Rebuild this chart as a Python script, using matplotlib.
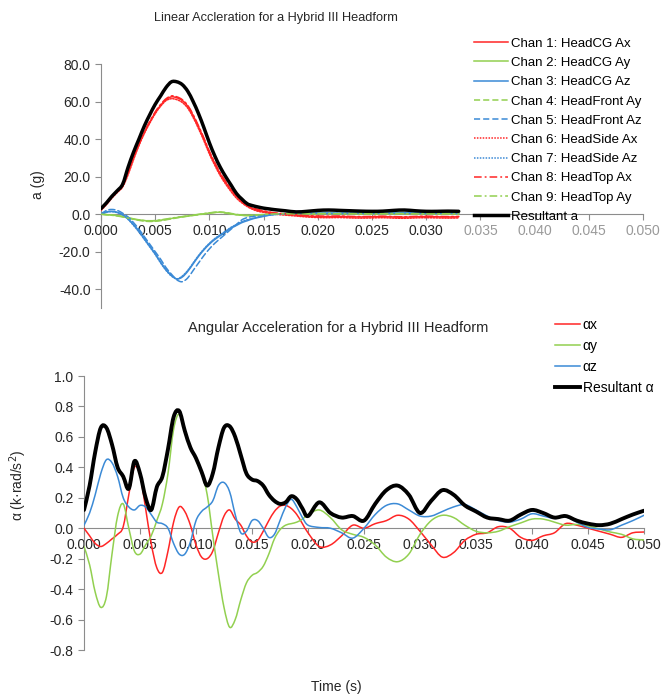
import numpy as np
import matplotlib
matplotlib.use("Agg")
import matplotlib.pyplot as plt
from matplotlib.lines import Line2D
from matplotlib.path import Path
from matplotlib.patches import PathPatch
from matplotlib.ticker import FuncFormatter

plt.rcParams['font.family'] = ['Liberation Sans', 'DejaVu Sans']

# ---- linear acceleration, Hybrid III headform (g) ----
t_lin = [0.0, 0.0005, 0.001, 0.0015, 0.002, 0.0025, 0.003, 0.0035, 0.004, 0.0045,
         0.005, 0.0055, 0.006, 0.0065, 0.007, 0.0075, 0.008, 0.0085, 0.009, 0.0095,
         0.010, 0.0105, 0.011, 0.0115, 0.012, 0.0125, 0.013, 0.0135, 0.014, 0.0145,
         0.015, 0.0155, 0.016, 0.017, 0.018, 0.019, 0.020, 0.021, 0.022, 0.023,
         0.024, 0.025, 0.026, 0.027, 0.028, 0.029, 0.030, 0.031, 0.032, 0.033]

chan1 = [2.5, 5.5, 9, 12, 15, 22, 30, 37, 43.5, 49, 54, 58, 61, 62.5, 62, 60.5, 57.5, 52.5, 46.5, 40,
         33, 27, 21.5, 17, 13, 9.5, 6.5, 4.5, 3, 2, 1.5, 1, 0.5, 0, -0.5, -1.0, -1.2, -1.3, -1.2, -1.4,
         -1.5, -1.4, -1.3, -1.5, -1.6, -1.4, -1.3, -1.4, -1.5, -1.4]
chan2 = [0, -0.3, -0.5, -0.8, -1.2, -1.8, -2.5, -3.0, -3.4, -3.6, -3.5, -3.2, -2.8, -2.3, -1.8, -1.4,
         -1.0, -0.6, -0.2, 0.2, 0.6, 0.9, 1.0, 0.7, 0.2, -0.3, -0.6, -0.7, -0.6, -0.4, -0.2, 0, 0.1,
         0.2, 0.3, 0.2, 0.3, 0.4, 0.3, 0.2, 0.3, 0.2, 0.2, 0.3, 0.4, 0.3, 0.2, 0.2, 0.3, 0.2]
chan3 = [0, 1.2, 1.5, 1.0, -0.3, -2.5, -5.5, -9, -13, -17, -21, -25.5, -29.5, -32.5, -34.5, -33.5,
         -30.5, -26.5, -22.5, -19, -16, -13.5, -11.5, -9.5, -7.5, -6, -4.5, -3.5, -2.5, -1.8, -1.2,
         -0.6, -0.2, 0.2, 0.4, 0.5, 0.6, 0.5, 0.4, 0.5, 0.6, 0.5, 0.5, 0.6, 0.7, 0.6, 0.5, 0.5, 0.6, 0.5]
chan4 = [0, -0.2, -0.4, -0.8, -1.3, -2.0, -2.7, -3.3, -3.7, -3.9, -3.8, -3.5, -3.0, -2.5, -2.0, -1.5,
         -1.1, -0.7, -0.3, 0.1, 0.5, 0.9, 1.1, 0.9, 0.4, -0.1, -0.5, -0.7, -0.7, -0.5, -0.3, -0.1, 0.1,
         0.3, 0.4, 0.3, 0.2, 0.3, 0.4, 0.3, 0.2, 0.3, 0.3, 0.2, 0.3, 0.4, 0.3, 0.2, 0.3, 0.3]
chan5 = [0, 2, 2.5, 2, 0.5, -1.5, -4.5, -8, -12, -16, -20, -24, -28.5, -32, -35, -36, -34, -30, -26,
         -22, -18.5, -15.5, -13, -10.5, -8, -5.5, -3, -1.8, -1.2, -0.8, -0.5, -0.3, 0, 0.3, 0.5, 0.6,
         0.5, 0.4, 0.5, 0.6, 0.5, 0.4, 0.5, 0.6, 0.6, 0.5, 0.4, 0.5, 0.5, 0.4]
chan6 = [2, 5, 8.5, 11.5, 14.5, 21, 29, 36.5, 43, 48.5, 53.5, 57.5, 60.5, 61.5, 61, 59.5, 56.5, 51.5,
         45.5, 39, 32, 26, 20.5, 16, 12, 8.5, 6, 4, 2.5, 1.5, 1, 0.5, 0, -0.5, -1.0, -1.5, -1.8, -1.9,
         -1.8, -2.0, -2.1, -2.0, -1.9, -2.1, -2.2, -2.0, -1.9, -2.0, -2.1, -2.0]
chan7 = [0, 1.0, 1.3, 0.8, -0.5, -2.8, -6, -9.5, -13.5, -17.5, -21.5, -26, -30, -33, -34.5, -33,
         -30, -26, -22, -18.5, -15.5, -13, -11, -9, -7, -5.5, -4, -3, -2.2, -1.5, -1, -0.5, -0.2,
         0.2, 0.3, 0.4, 0.5, 0.5, 0.4, 0.4, 0.5, 0.5, 0.4, 0.5, 0.6, 0.5, 0.4, 0.4, 0.5, 0.5]
chan8 = [3, 6, 9.5, 12.5, 15.5, 22.5, 30.5, 38, 44, 49.5, 54.5, 58.5, 61.5, 63, 62.5, 61, 58, 53,
         47, 40.5, 33.5, 27.5, 22, 17.5, 13.5, 10, 7, 5, 3.5, 2.5, 1.8, 1.2, 0.7, 0.2, -0.3, -0.8,
         -1.0, -1.1, -1.0, -1.2, -1.3, -1.2, -1.1, -1.3, -1.4, -1.2, -1.1, -1.2, -1.3, -1.2]
chan9 = [0, -0.3, -0.6, -1.0, -1.5, -2.1, -2.7, -3.1, -3.4, -3.5, -3.4, -3.0, -2.6, -2.1, -1.7, -1.3,
         -0.9, -0.5, -0.1, 0.3, 0.7, 1.0, 1.0, 0.6, 0.1, -0.3, -0.6, -0.7, -0.6, -0.4, -0.2, 0.0, 0.1,
         0.2, 0.2, 0.3, 0.4, 0.3, 0.2, 0.3, 0.3, 0.2, 0.3, 0.4, 0.3, 0.2, 0.3, 0.3, 0.2, 0.2]
res_a = [3, 6, 9.5, 12.5, 16, 25, 33, 40, 47, 53, 58.5, 63, 67.5, 70.5, 70.5, 69, 65.5, 60, 53.5,
         46, 38, 31, 25, 20, 15.5, 11, 8, 5.5, 4.5, 3.8, 3.2, 2.8, 2.4, 1.8, 1.2, 1.5, 2.0, 2.2,
         2.0, 1.8, 1.6, 1.5, 1.6, 2.0, 2.2, 1.8, 1.5, 1.5, 1.6, 1.5]

# ---- angular acceleration (k rad/s^2), time in ms ----
t_ang_ms = [0, 0.5, 1, 1.5, 2, 2.5, 3, 3.5, 4, 4.5, 5, 5.5, 6, 6.5, 7, 7.5, 8, 8.5, 9, 9.5,
            10, 10.5, 11, 11.5, 12, 12.5, 13, 13.5, 14, 14.5, 15, 15.5, 16, 16.5, 17, 17.5,
            18, 18.5, 19, 19.5, 20, 21, 22, 23, 24, 25, 26, 27, 28, 29, 30, 31, 32, 33, 34,
            35, 36, 37, 38, 39, 40, 41, 42, 43, 44, 45, 46, 47, 48, 49, 50]
alpha_x = [0.0, -0.05, -0.10, -0.12, -0.10, -0.07, -0.04, 0.01, 0.22, 0.40, 0.35, 0.13, -0.10,
           -0.26, -0.29, -0.15, 0.04, 0.14, 0.11, 0.02, -0.11, -0.19, -0.20, -0.15, -0.03, 0.08,
           0.12, 0.06, 0.02, -0.05, -0.09, -0.08, -0.02, 0.05, 0.11, 0.145, 0.15, 0.13, 0.09, 0.03,
           -0.03, -0.12, -0.11, -0.05, 0.02, 0.0, 0.03, 0.05, 0.085, 0.06, -0.02, -0.11, -0.19,
           -0.16, -0.08, -0.04, -0.03, 0.01, 0.0, -0.06, -0.08, -0.05, -0.03, 0.03, 0.02, 0.0,
           -0.02, -0.04, -0.06, -0.03, -0.025]
alpha_y = [-0.12, -0.24, -0.42, -0.52, -0.45, -0.17, 0.08, 0.16, 0.0, -0.15, -0.17, -0.11, -0.05,
           0.05, 0.16, 0.36, 0.65, 0.75, 0.64, 0.53, 0.45, 0.36, 0.22, -0.05, -0.30, -0.52, -0.65,
           -0.60, -0.47, -0.36, -0.31, -0.29, -0.25, -0.17, -0.07, -0.01, 0.02, 0.03, 0.04, 0.06,
           0.09, 0.12, 0.07, -0.01, -0.04, -0.06, -0.11, -0.19, -0.22, -0.17, -0.04, 0.05, 0.085,
           0.07, 0.02, -0.02, -0.03, -0.02, 0.01, 0.035, 0.06, 0.06, 0.04, 0.02, 0.025, 0.015,
           -0.005, -0.025, -0.04, -0.07, -0.077]
alpha_z = [0.02, 0.10, 0.22, 0.36, 0.45, 0.43, 0.34, 0.20, 0.14, 0.12, 0.15, 0.14, 0.09, 0.04,
           0.03, 0.0, -0.10, -0.17, -0.17, -0.09, 0.05, 0.11, 0.14, 0.18, 0.28, 0.30, 0.24, 0.09,
           -0.03, -0.02, 0.05, 0.05, 0.0, -0.06, -0.04, 0.05, 0.14, 0.19, 0.14, 0.07, 0.02, 0.005,
           0.0, -0.03, -0.065, 0.0, 0.09, 0.15, 0.16, 0.12, 0.08, 0.08, 0.11, 0.14, 0.155, 0.12,
           0.08, 0.05, 0.04, 0.06, 0.095, 0.08, 0.065, 0.075, 0.04, 0.005, -0.005, -0.01, 0.02,
           0.05, 0.085]
res_alpha = [0.12, 0.28, 0.50, 0.66, 0.66, 0.55, 0.40, 0.34, 0.26, 0.44, 0.36, 0.20, 0.12, 0.27,
             0.34, 0.52, 0.73, 0.77, 0.64, 0.53, 0.46, 0.37, 0.28, 0.36, 0.53, 0.66, 0.67, 0.60,
             0.48, 0.36, 0.32, 0.31, 0.28, 0.22, 0.18, 0.16, 0.17, 0.21, 0.19, 0.13, 0.08, 0.17,
             0.10, 0.07, 0.08, 0.05, 0.16, 0.25, 0.28, 0.22, 0.10, 0.18, 0.25, 0.22, 0.15, 0.11,
             0.07, 0.06, 0.05, 0.09, 0.12, 0.10, 0.07, 0.08, 0.05, 0.03, 0.02, 0.03, 0.06, 0.09,
             0.115]

RED = '#ff2626'
GREEN = '#92d050'
BLUE = '#3b8ad6'
AXIS = '#8c8c8c'
TXT = '#262626'

SOLID = '-'
DASH = (0, (4, 2))
DOT = (0, (1, 0.9))
DASHDOT = (0, (5, 2, 1.2, 2))

W, H = 662, 694
fig = plt.figure(figsize=(W / 100, H / 100), dpi=100)


def smooth_line(ax, x, y, color, lw, ls='-'):
    """Spreadsheet-style smoothed line: Catmull-Rom segments as cubic Beziers."""
    x = np.asarray(x, float)
    y = np.asarray(y, float)
    n = len(x)
    verts = [(x[0], y[0])]
    codes = [Path.MOVETO]
    for i in range(n - 1):
        i0, i3 = max(i - 1, 0), min(i + 2, n - 1)
        c1 = (x[i] + (x[i + 1] - x[i0]) / 6, y[i] + (y[i + 1] - y[i0]) / 6)
        c2 = (x[i + 1] - (x[i3] - x[i]) / 6, y[i + 1] - (y[i3] - y[i]) / 6)
        verts += [c1, c2, (x[i + 1], y[i + 1])]
        codes += [Path.CURVE4] * 3
    ax.add_patch(PathPatch(Path(verts, codes), fill=False, edgecolor=color,
                           linewidth=lw, linestyle=ls, capstyle='round',
                           joinstyle='round', zorder=3))
    return Line2D([], [], color=color, lw=lw, linestyle=ls)


def fmt(decimals):
    return FuncFormatter(lambda v, p: f'{round(v, decimals) + 0.0:.{decimals}f}')


def style_axes(ax):
    for s in ('top', 'right'):
        ax.spines[s].set_visible(False)
    ax.spines['left'].set_color(AXIS)
    ax.spines['bottom'].set_color(AXIS)
    ax.spines['bottom'].set_position(('data', 0))
    ax.tick_params(axis='both', colors=AXIS, labelcolor=TXT, direction='out',
                   length=4, width=0.8, labelsize=10)
    ax.tick_params(axis='x', pad=3)
    ax.patch.set_alpha(0)


# top chart: linear acceleration
ax1 = fig.add_axes([101 / W, 1 - 308 / H, 542 / W, 244 / H])
series = [
    (chan1, RED, SOLID, 'Chan 1: HeadCG Ax'),
    (chan2, GREEN, SOLID, 'Chan 2: HeadCG Ay'),
    (chan3, BLUE, SOLID, 'Chan 3: HeadCG Az'),
    (chan4, GREEN, DASH, 'Chan 4: HeadFront Ay'),
    (chan5, BLUE, DASH, 'Chan 5: HeadFront Az'),
    (chan6, RED, DOT, 'Chan 6: HeadSide Ax'),
    (chan7, BLUE, DOT, 'Chan 7: HeadSide Az'),
    (chan8, RED, DASHDOT, 'Chan 8: HeadTop Ax'),
    (chan9, GREEN, DASHDOT, 'Chan 9: HeadTop Ay'),
]
h1, l1 = [], []
for vals, c, ls, lab in series:
    h1.append(smooth_line(ax1, t_lin, vals, c, 1.1, ls))
    l1.append(lab)
h1.append(smooth_line(ax1, t_lin, res_a, 'black', 2.5))
l1.append('Resultant a')
ax1.set_xlim(0, 0.050)
ax1.set_ylim(-50, 80)
ax1.set_xticks([i * 0.005 for i in range(11)])
ax1.set_yticks([-40, -20, 0, 20, 40, 60, 80])
ax1.xaxis.set_major_formatter(fmt(3))
ax1.yaxis.set_major_formatter(fmt(1))
style_axes(ax1)
for lbl, val in zip(ax1.get_xticklabels(), ax1.get_xticks()):
    if val > 0.0335:
        lbl.set_color('#9a9a9a')
fig.text(38 / W, 1 - 185 / H, 'a (g)', rotation=90, ha='center', va='center',
         fontsize=10, color=TXT)
fig.text(276 / W, 1 - 18 / H, 'Linear Accleration for a Hybrid III Headform',
         ha='center', va='center', fontsize=9.2, color=TXT)
fig.legend(h1, l1, loc='upper left', bbox_to_anchor=(471 / W, 1 - 35 / H),
           frameon=False, fontsize=9.5, handlelength=2.6, handletextpad=0.2,
           labelspacing=0.53, borderpad=0.2, borderaxespad=0)

# bottom chart: angular acceleration
ax2 = fig.add_axes([84 / W, 1 - 650 / H, 560 / W, 274 / H])
ta = [v / 1000.0 for v in t_ang_ms]
h2 = [smooth_line(ax2, ta, alpha_x, RED, 1.1),
      smooth_line(ax2, ta, alpha_y, GREEN, 1.1),
      smooth_line(ax2, ta, alpha_z, BLUE, 1.1),
      smooth_line(ax2, ta, res_alpha, 'black', 2.8)]
l2 = ['αx', 'αy', 'αz', 'Resultant α']
ax2.set_xlim(0, 0.050)
ax2.set_ylim(-0.8, 1.0)
ax2.set_xticks([i * 0.005 for i in range(11)])
ax2.set_yticks([-0.8, -0.6, -0.4, -0.2, 0.0, 0.2, 0.4, 0.6, 0.8, 1.0])
ax2.xaxis.set_major_formatter(fmt(3))
ax2.yaxis.set_major_formatter(fmt(1))
style_axes(ax2)
fig.text(18 / W, 1 - 485 / H, 'α (k·rad/s$^2$)', rotation=90, ha='center', va='center',
         fontsize=10, color=TXT)
fig.text(338 / W, 1 - 328 / H, 'Angular Acceleration for a Hybrid III Headform',
         ha='center', va='center', fontsize=10.5, color=TXT)
fig.text(336 / W, 1 - 687 / H, 'Time (s)', ha='center', va='center', fontsize=10, color=TXT)
fig.legend(h2, l2, loc='upper left', bbox_to_anchor=(552 / W, 1 - 315 / H),
           frameon=False, fontsize=10, handlelength=1.8, handletextpad=0.2,
           labelspacing=0.5, borderpad=0.2, borderaxespad=0)

fig.savefig('out.png', dpi=100)
